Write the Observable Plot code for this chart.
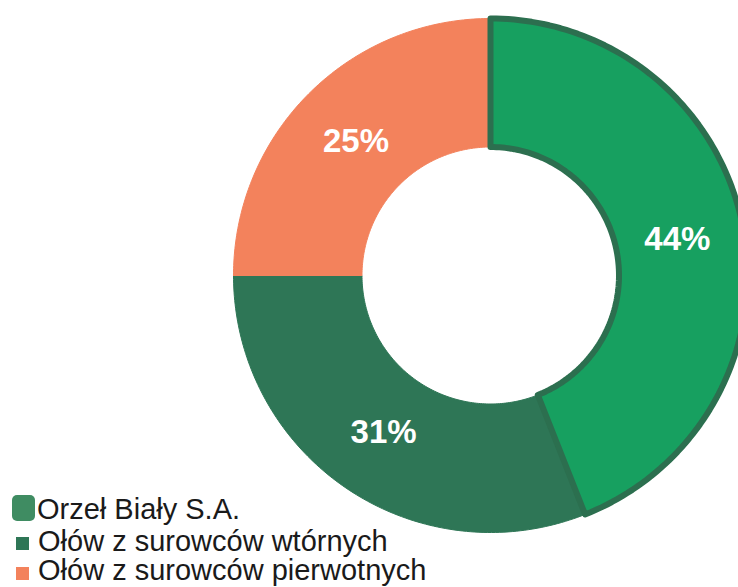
<!DOCTYPE html>
<html><head><meta charset="utf-8">
<script src="https://cdn.jsdelivr.net/npm/d3@7"></script>
<script src="https://cdn.jsdelivr.net/npm/@observablehq/plot@0.6"></script>
<style>
body{margin:0;background:#fff;}
#wrap{position:relative;width:738px;height:587px;overflow:hidden;}
#legend{position:absolute;left:0;top:0;font-family:"Liberation Sans",Arial,sans-serif;color:#1a1a1a;}
.item{position:absolute;white-space:nowrap;line-height:1;}
.sw{position:absolute;}
</style></head>
<body><div id="wrap"><div id="chart"></div><div id="legend"></div></div>
<script>
const categories = ["Orzeł Biały S.A.", "Ołów z surowców wtórnych", "Ołów z surowców pierwotnych"];
const values = [44, 31, 25];
const labels = ["44%", "31%", "25%"];
const colors = ["#17a060", "#2e7656", "#f3825c"];
const strokes = ["#2c6f4f", "none", "none"];
const legendColors = ["#3f8c62", "#2e7656", "#f3825c"];

const R0 = 1, RI = 0.5, RL = 0.74;
const total = d3.sum(values);
let acc = 0;
const slices = values.map((v, i) => {
  const a0 = acc / total * 2 * Math.PI; acc += v;
  const a1 = acc / total * 2 * Math.PI;
  return {i, cat: categories[i], a0, a1, label: labels[i]};
});
const pts = [];
for (const s of slices) {
  const n = 120;
  for (let k = 0; k <= n; k++) { const a = s.a0 + (s.a1 - s.a0) * k / n; pts.push({i: s.i, x: R0 * Math.sin(a), y: R0 * Math.cos(a)}); }
  for (let k = n; k >= 0; k--) { const a = s.a0 + (s.a1 - s.a0) * k / n; pts.push({i: s.i, x: RI * Math.sin(a), y: RI * Math.cos(a)}); }
  pts.push({i: s.i, x: R0 * Math.sin(s.a0), y: R0 * Math.cos(s.a0)});
}
const labelPts = slices.map(s => { const m = (s.a0 + s.a1) / 2; return {x: RL * Math.sin(m), y: RL * Math.cos(m), t: s.label}; });

const cx = 490, cy = 275, rpx = 257, W = 738, H = 587;
const order = [1, 2, 0];
const chart = Plot.plot({
  width: W, height: H, margin: 0,
  x: {domain: [-cx / rpx, (W - cx) / rpx], range: [0, W], axis: null},
  y: {domain: [-(H - cy) / rpx, cy / rpx], range: [H, 0], axis: null},
  marks: [
    ...order.map(i => Plot.line(pts.filter(p => p.i === i), {x: "x", y: "y", fill: colors[i], stroke: strokes[i] === "none" ? colors[i] : strokes[i], strokeWidth: strokes[i] === "none" ? 1 : 6, strokeLinejoin: "round", curve: "linear"})),
    Plot.text(labelPts, {x: "x", y: "y", text: "t", fill: "white", fontSize: 33, fontWeight: "bold", fontFamily: "Liberation Sans, Arial, sans-serif"})
  ]
});
document.getElementById("chart").appendChild(chart);

const leg = document.getElementById("legend");
const rows = [
  {top: 495, fs: 29, sw: {l: 12, t: 495, w: 23, h: 26, r: 5}, tl: 37},
  {top: 527, fs: 29, sw: {l: 16, t: 537, w: 13, h: 13, r: 0}, tl: 38},
  {top: 556, fs: 29, sw: {l: 16, t: 567, w: 13, h: 13, r: 0}, tl: 38}
];
categories.forEach((c, i) => {
  const r = rows[i];
  const s = document.createElement("div"); s.className = "sw";
  Object.assign(s.style, {left: r.sw.l + "px", top: r.sw.t + "px", width: r.sw.w + "px", height: r.sw.h + "px", background: legendColors[i], borderRadius: r.sw.r + "px"});
  leg.appendChild(s);
  const t = document.createElement("div"); t.className = "item"; t.textContent = c;
  Object.assign(t.style, {left: r.tl + "px", top: r.top + "px", fontSize: r.fs + "px"});
  leg.appendChild(t);
});
</script></body></html>
